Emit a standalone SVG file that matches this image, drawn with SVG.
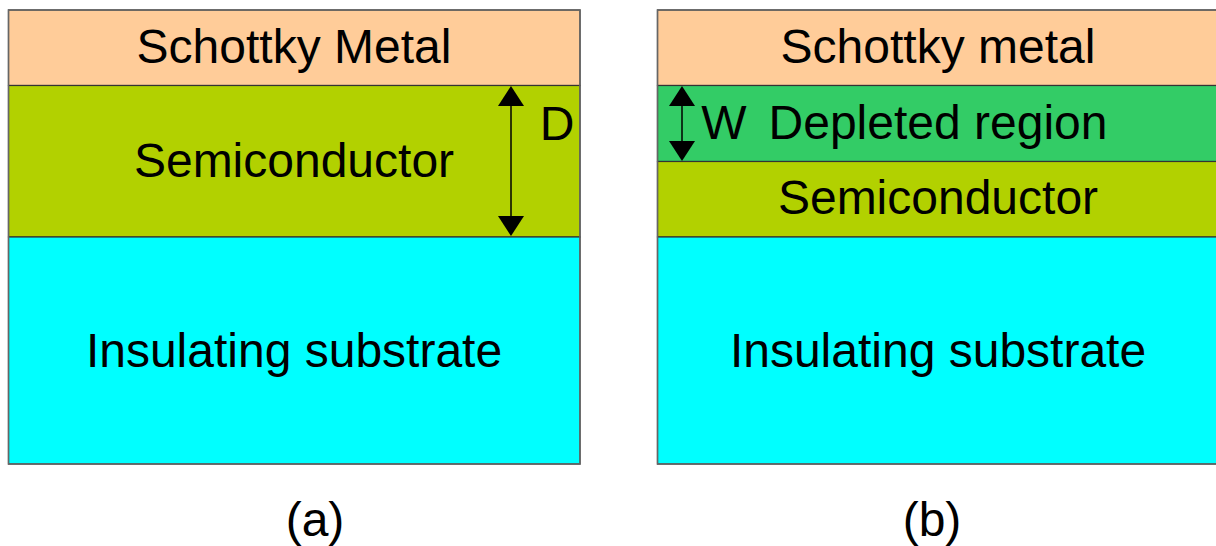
<svg xmlns="http://www.w3.org/2000/svg" width="1216" height="546" viewBox="0 0 1216 546">
  <defs>
    <style>
      .layer { stroke: #333; stroke-width: 1.2; }
      .metal { fill: #FFCC99; }
      .semi { fill: #B2D100; }
      .depl { fill: #33CC66; }
      .subs { fill: #00FFFF; }
      .frame { fill: none; stroke: #666; stroke-width: 1.5; }
      text { font-family: "Liberation Sans", Arial, sans-serif; font-size: 48px; fill: #000; text-anchor: middle; }
      .dim { stroke: #000; stroke-width: 1.5; fill: none; }
      .head { fill: #000; }
    </style>
  </defs>

  <!-- Panel (a): metal / semiconductor / substrate stack -->
  <g id="panel-a">
    <g id="a-metal">
      <rect class="layer metal" x="8.5" y="10" width="571.5" height="75.5"/>
      <text x="294" y="63">Schottky Metal</text>
    </g>
    <g id="a-semiconductor">
      <rect class="layer semi" x="8.5" y="85.5" width="571.5" height="151.5"/>
      <text x="294" y="177">Semiconductor</text>
    </g>
    <g id="a-substrate">
      <rect class="layer subs" x="8.5" y="237" width="571.5" height="227"/>
      <text x="294" y="367">Insulating substrate</text>
    </g>
    <rect class="frame" x="8.5" y="10" width="571.5" height="454"/>
    <g id="a-thickness">
      <text x="557" y="140">D</text>
    </g>
    <g id="a-caption">
      <text x="315" y="536">(a)</text>
    </g>
  </g>

  <!-- Panel (b): metal / depleted region / semiconductor / substrate -->
  <g id="panel-b">
    <g id="b-metal">
      <rect class="layer metal" x="657.5" y="10" width="570" height="75.5"/>
      <text x="938" y="63">Schottky metal</text>
    </g>
    <g id="b-depleted">
      <rect class="layer depl" x="657.5" y="85.5" width="570" height="76"/>
      <text x="724" y="139">W</text>
      <text x="938" y="139">Depleted region</text>
    </g>
    <g id="b-semiconductor">
      <rect class="layer semi" x="657.5" y="161.5" width="570" height="75.5"/>
      <text x="938" y="214">Semiconductor</text>
    </g>
    <g id="b-substrate">
      <rect class="layer subs" x="657.5" y="237" width="570" height="227"/>
      <text x="938" y="367">Insulating substrate</text>
    </g>
    <rect class="frame" x="657.5" y="10" width="570" height="454"/>
    <g id="b-caption">
      <text x="932" y="536">(b)</text>
    </g>
  </g>

  <!-- Double-headed dimension arrows (D and W) -->
  <g id="connectors">
    <line class="dim" x1="511" y1="100" x2="511" y2="222"/>
    <polygon class="head" points="511,86 524,106 498,106"/>
    <polygon class="head" points="511,236 524,216 498,216"/>
    <line class="dim" x1="682" y1="100" x2="682" y2="147"/>
    <polygon class="head" points="682,86 695,106 669,106"/>
    <polygon class="head" points="682,161 695,141 669,141"/>
  </g>
</svg>
